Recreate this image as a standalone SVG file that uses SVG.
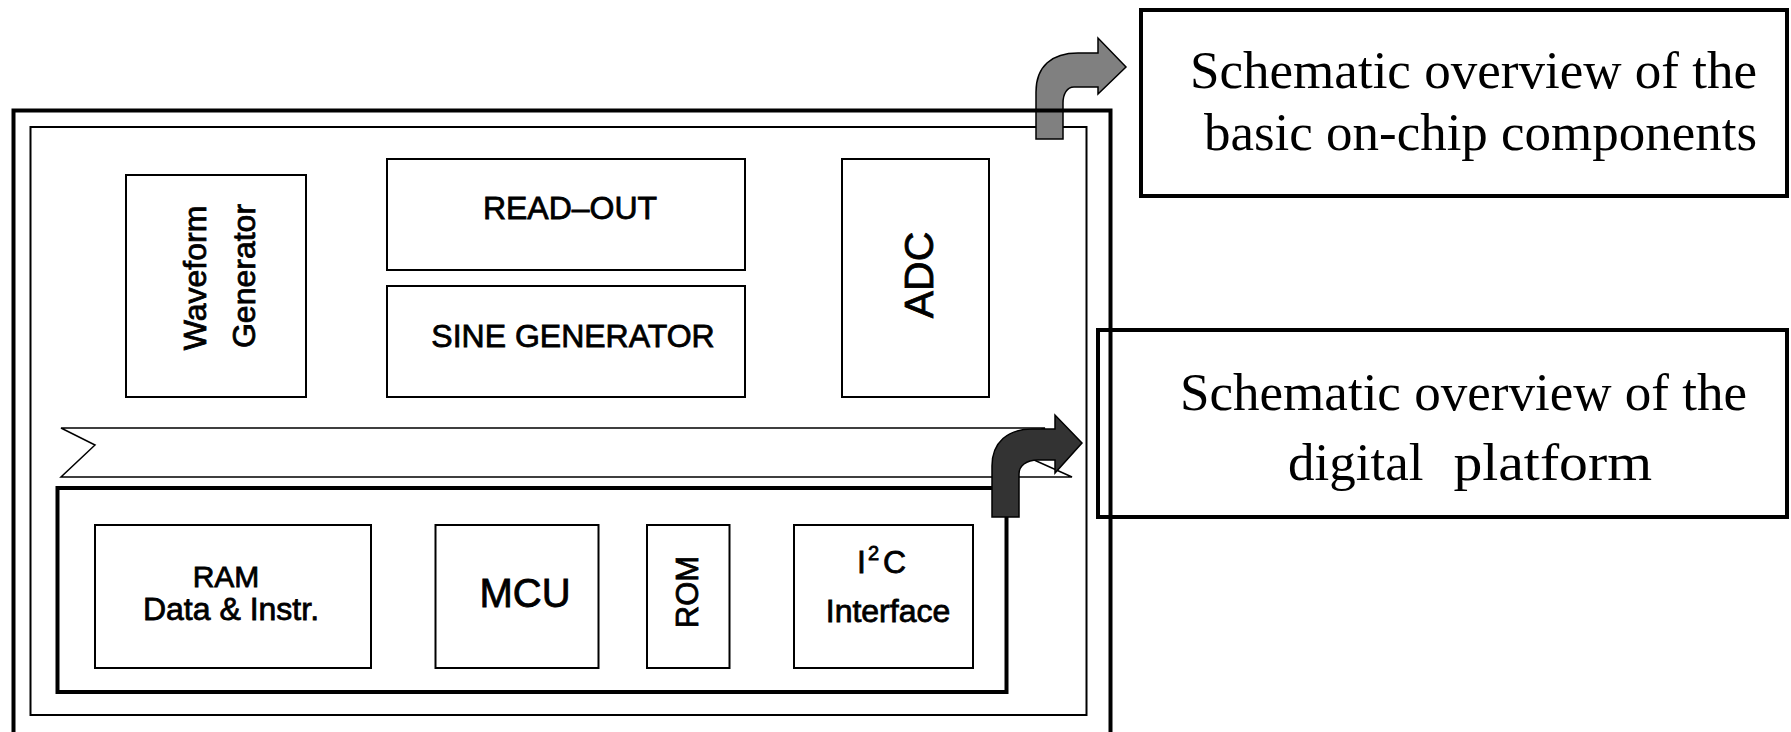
<svg xmlns="http://www.w3.org/2000/svg" width="1791" height="732" viewBox="0 0 1791 732">
<style>
.box{fill:none;stroke:#000;stroke-width:2}
.thick{fill:none;stroke:#000;stroke-width:4}
.lbl{font-family:"Liberation Sans",Arial,sans-serif;font-size:32px;fill:#000;stroke:#000;stroke-width:0.8;text-anchor:middle}
.serif{font-family:"Liberation Serif","Times New Roman",serif;font-size:53px;fill:#000}
</style>
<rect width="1791" height="732" fill="#fff"/>
<g id="inner-box"><rect class="box" x="30.5" y="127" width="1056" height="588"/></g>
<g id="waveform-generator">
<rect class="box" x="126" y="175" width="180" height="222"/>
<text class="lbl" transform="translate(206,278) rotate(-90)">Waveform</text>
<text class="lbl" transform="translate(255,276) rotate(-90)">Generator</text>
</g>
<g id="read-out">
<rect class="box" x="387" y="159" width="358" height="111"/>
<text class="lbl" x="570" y="219">READ–OUT</text>
</g>
<g id="sine-generator">
<rect class="box" x="387" y="286" width="358" height="111"/>
<text class="lbl" x="573" y="347">SINE GENERATOR</text>
</g>
<g id="adc">
<rect class="box" x="842" y="159" width="147" height="238"/>
<text class="lbl" style="font-size:41px" transform="translate(933,275) rotate(-90)">ADC</text>
</g>
<g id="bus">
<polygon points="61,428 1045,428 1005,447 1072,477 61,477 95,445" fill="#fff" stroke="#000" stroke-width="1.5"/>
</g>
<g id="digital-platform">
<rect class="thick" x="57.5" y="488" width="949" height="204"/>
</g>
<g id="ram">
<rect class="box" x="95" y="525" width="276" height="143"/>
<text class="lbl" style="font-size:30px" x="226" y="587">RAM</text>
<text class="lbl" x="231" y="620">Data &amp; Instr.</text>
</g>
<g id="mcu">
<rect class="box" x="435.5" y="525" width="163" height="143"/>
<text class="lbl" style="font-size:40px" x="525" y="607">MCU</text>
</g>
<g id="rom">
<rect class="box" x="647" y="525" width="82.5" height="143"/>
<text class="lbl" style="font-size:31px" transform="translate(698,592) rotate(-90)">ROM</text>
</g>
<g id="i2c">
<rect class="box" x="794" y="525" width="179" height="143"/>
<text class="lbl" style="text-anchor:start" x="857" y="573">I<tspan x="868" dy="-13" font-size="20">2</tspan><tspan x="883" dy="13">C</tspan></text>
<text class="lbl" x="888" y="622">Interface</text>
</g>
<g id="connectors">
<path id="arrow-analog" d="M1036,139 L1036,92 C1036,66 1052,53 1078,53 L1098,53 L1098,38 L1126,67 L1098,94 L1098,87 L1074,87 C1067,87 1063,94 1063,103 L1063,139 Z" fill="#808080" stroke="#000" stroke-width="1.5"/>
<path id="arrow-digital" d="M992,517 L992,466 C992,442 1008,429 1032,429 L1055,429 L1055,415 L1082,443 L1055,473 L1055,460 L1038,460 C1026,460 1019,466 1019,474 L1019,517 Z" fill="#333" stroke="#000" stroke-width="1.5"/>
</g>
<g id="outer-box"><rect class="thick" x="13.5" y="110.5" width="1097" height="660"/></g>
<g id="overview-analog">
<rect class="thick" x="1141" y="10" width="646" height="186"/>
<text class="serif" x="1190" y="88" textLength="567" lengthAdjust="spacingAndGlyphs">Schematic overview of the</text>
<text class="serif" x="1204" y="150" textLength="553" lengthAdjust="spacingAndGlyphs">basic on-chip components</text>
</g>
<g id="overview-digital">
<rect class="thick" x="1098" y="330" width="689" height="187"/>
<text class="serif" x="1180" y="410" textLength="567" lengthAdjust="spacingAndGlyphs">Schematic overview of the</text>
<text class="serif" y="480"><tspan x="1288">digital</tspan><tspan x="1439" textLength="213" lengthAdjust="spacingAndGlyphs"> platform</tspan></text>
</g>
</svg>
